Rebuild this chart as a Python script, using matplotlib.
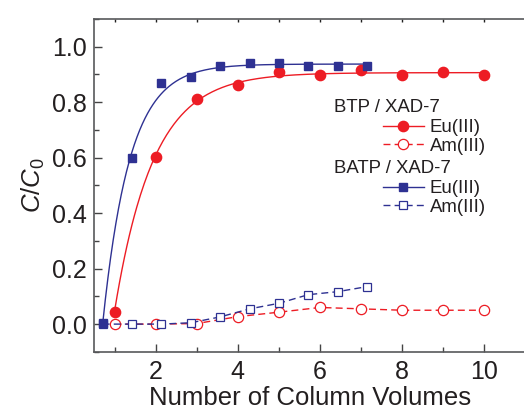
import numpy as np
import matplotlib
matplotlib.use('Agg')
import matplotlib.pyplot as plt
from matplotlib.ticker import MultipleLocator, FormatStrFormatter

plt.rcParams['font.family'] = ['Liberation Sans', 'DejaVu Sans']
plt.rcParams['mathtext.fontset'] = 'custom'
plt.rcParams['mathtext.it'] = 'Liberation Sans:italic'
plt.rcParams['mathtext.rm'] = 'Liberation Sans'

# BTP / XAD-7 column, sampled every column volume
btp_x = [1, 2, 3, 4, 5, 6, 7, 8, 9, 10]
btp_eu = [0.043, 0.604, 0.812, 0.862, 0.909, 0.897, 0.915, 0.897, 0.909, 0.897]
btp_am = [0.0, 0.0, 0.002, 0.027, 0.043, 0.060, 0.055, 0.050, 0.050, 0.050]

# BATP / XAD-7 column
batp_x = [0.71, 1.43, 2.14, 2.86, 3.57, 4.29, 5.0, 5.71, 6.43, 7.14]
batp_eu = [0.005, 0.60, 0.869, 0.889, 0.929, 0.941, 0.94, 0.93, 0.93, 0.93]
batp_am = [0.0, 0.0, 0.0, 0.005, 0.026, 0.055, 0.075, 0.106, 0.117, 0.135]

red = '#ed1c24'
blue = '#2e3192'
ink = '#231f20'


def fit_curve(xs, ys, n=300):
    # least-squares fit of y = A * (1 - exp(-k (x - x0))) to the breakthrough data
    xs = np.asarray(xs, float)
    ys = np.asarray(ys, float)
    best = None
    for x0 in np.linspace(xs[0] - 0.5, xs[0], 51):
        for k in np.linspace(0.3, 4.0, 186):
            f = 1 - np.exp(-k * (xs - x0))
            a = (f @ ys) / (f @ f)
            err = np.sum((a * f - ys) ** 2)
            if best is None or err < best[0]:
                best = (err, a, k, x0)
    _, a, k, x0 = best
    xx = np.linspace(xs[0], xs[-1], n)
    return xx, a * (1 - np.exp(-k * (xx - x0)))


fig = plt.figure(figsize=(5.24, 4.12), dpi=100)
ax = fig.add_axes([0.1794, 0.146, 0.8235, 0.808])

# Am(III): dashed polylines with open markers
l_btp_am, = ax.plot(btp_x, btp_am, color=red, lw=1.0, ls=(0, (5, 3)),
                    marker='o', ms=7.4, mfc='white', mec=red, mew=0.9, zorder=3)
l_batp_am, = ax.plot(batp_x, batp_am, color=blue, lw=1.0, ls=(0, (5, 3)),
                     marker='s', ms=6.4, mfc='white', mec=blue, mew=0.9, zorder=3)

# Eu(III): fitted curves with filled markers
fx, fy = fit_curve(btp_x, btp_eu)
ax.plot(fx, fy, color=red, lw=1.0, zorder=4)
ax.plot(btp_x, btp_eu, ls='none', marker='o', ms=7.4, color=red, zorder=5)
fx, fy = fit_curve(batp_x, batp_eu)
ax.plot(fx, fy, color=blue, lw=1.0, zorder=4)
ax.plot(batp_x, batp_eu, ls='none', marker='s', ms=6.4, color=blue, zorder=5)

# legend handles
h_btp_eu, = ax.plot([], [], color=red, lw=1.0, marker='o', ms=7.4)
h_batp_eu, = ax.plot([], [], color=blue, lw=1.0, marker='s', ms=6.4)

ax.set_xlim(0.5, 11)
ax.set_ylim(-0.1, 1.1)
ax.xaxis.set_major_locator(MultipleLocator(2))
ax.xaxis.set_minor_locator(MultipleLocator(1))
ax.yaxis.set_major_locator(MultipleLocator(0.2))
ax.yaxis.set_minor_locator(MultipleLocator(0.1))
ax.yaxis.set_major_formatter(FormatStrFormatter('%.1f'))

for s in ax.spines.values():
    s.set_color('#58595b')
    s.set_linewidth(1.2)
ax.tick_params(which='major', direction='in', length=6, width=1, color='#444444',
               labelsize=18, labelcolor=ink)
ax.tick_params(which='minor', direction='in', length=3.5, width=1, color='#444444')
ax.tick_params(axis='x', which='major', pad=6)
ax.tick_params(axis='y', which='major', pad=5)

top = ax.secondary_xaxis('top')
top.xaxis.set_major_locator(MultipleLocator(1))
top.tick_params(direction='in', length=2, width=1, labeltop=False, color='#222222')
top.spines['top'].set_visible(False)

ax.set_xlabel('Number of Column Volumes', fontsize=18.5, color=ink, labelpad=1)
ax.set_ylabel(r'$\mathit{C/C_0}$', fontsize=18.5, color=ink, labelpad=4)

fs = 13.4
fig.text(334 / 524, 1 - 108 / 412, 'BTP / XAD-7', fontsize=fs, color=ink, va='center')
fig.text(334 / 524, 1 - 169 / 412, 'BATP / XAD-7', fontsize=fs, color=ink, va='center')

leg_kw = dict(loc='upper left', frameon=False, fontsize=fs, numpoints=1,
              handlelength=2.2, handletextpad=0.3, labelspacing=0.1,
              borderpad=0, borderaxespad=0, bbox_transform=fig.transFigure,
              labelcolor=ink)
leg1 = ax.legend([h_btp_eu, l_btp_am], ['Eu(III)', 'Am(III)'],
                 bbox_to_anchor=(383 / 524, 1 - 119 / 412), **leg_kw)
ax.add_artist(leg1)
ax.legend([h_batp_eu, l_batp_am], ['Eu(III)', 'Am(III)'],
          bbox_to_anchor=(383 / 524, 1 - 180 / 412), **leg_kw)

fig.savefig('out.png', dpi=100)
